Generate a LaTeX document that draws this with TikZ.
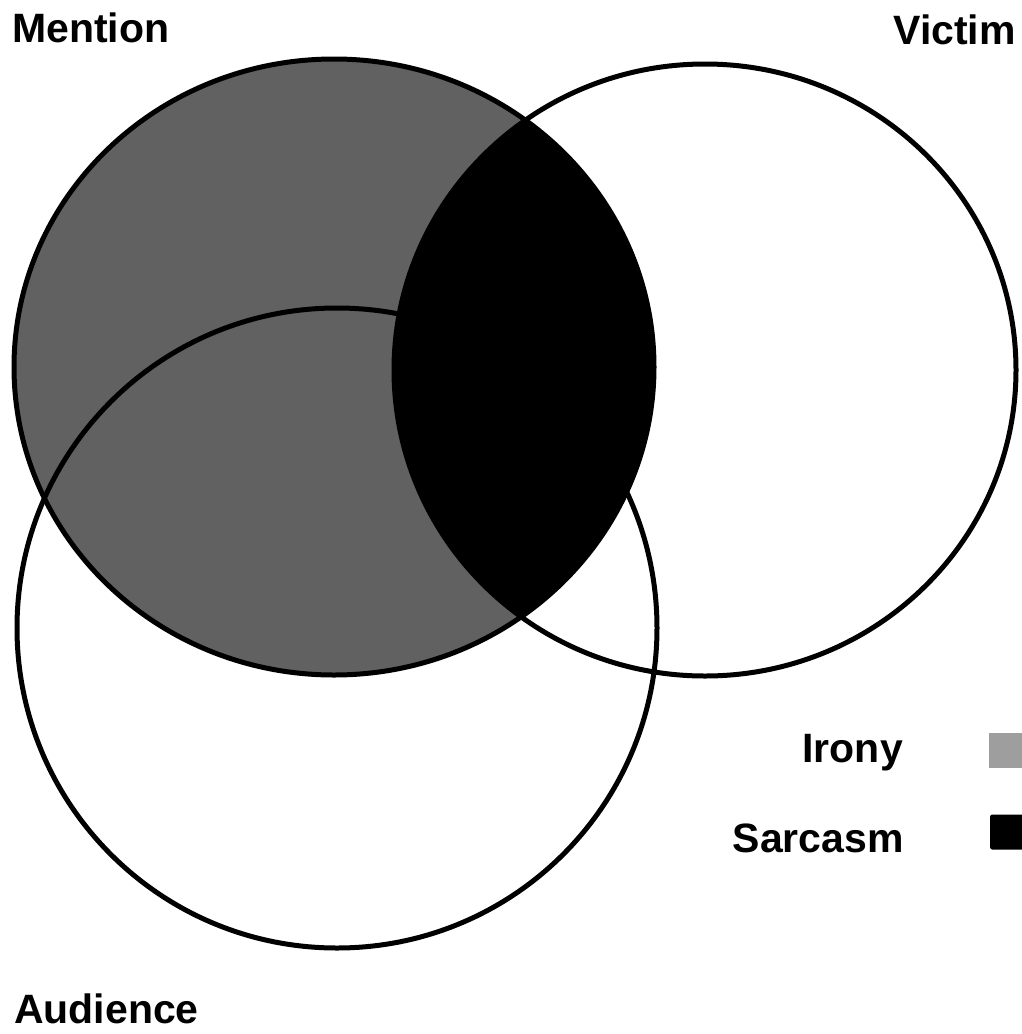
\documentclass[tikz,border=0pt]{standalone}
\usepackage{fontspec}
\setmainfont{Liberation Sans}
\usetikzlibrary{positioning}
\definecolor{ironygray}{gray}{0.38}
\definecolor{ironylight}{gray}{0.62}

\begin{document}
\begin{tikzpicture}[x=1pt, y=-1pt,
    setlabel/.style={font=\fontsize{41}{48}\selectfont\bfseries, inner sep=0pt},
    ring/.style={draw, line width=5pt},
    keybox/.style={rectangle, minimum width=36pt, minimum height=35pt, inner sep=0pt, anchor=west}]
  \useasboundingbox (0,0) rectangle (1021,1034);

  % Irony: the Mention set
  \fill[ironygray] (334,367) ellipse [x radius=320, y radius=308];
  % Sarcasm: Mention and Victim
  \begin{scope}
    \clip (334,367) ellipse [x radius=320, y radius=308];
    \fill[black] (705,370) ellipse [x radius=311, y radius=306];
  \end{scope}

  % Set outlines
  \path[ring] (334,367) ellipse [x radius=320, y radius=308];
  \path[ring] (705,370) ellipse [x radius=311, y radius=306];
  \path[ring] (337,628) circle [radius=320];

  % Set names
  \node[setlabel, anchor=base west] (mention) at (12,42) {Mention};
  \node[setlabel, anchor=base east] (victim) at (1016,44) {Victim};
  \node[setlabel, anchor=base west] (audience) at (14,1023) {Audience};

  % Legend
  \node[keybox, fill=ironylight] (ironykey) at (989,750) {};
  \node[keybox, fill=black, rounded corners=2pt] (sarcasmkey) at (990,832) {};
  \node[setlabel, anchor=base east] (irony) at (903,762) {Irony};
  \node[setlabel, anchor=base east] (sarcasm) at (904,852) {Sarcasm};
\end{tikzpicture}
\end{document}
